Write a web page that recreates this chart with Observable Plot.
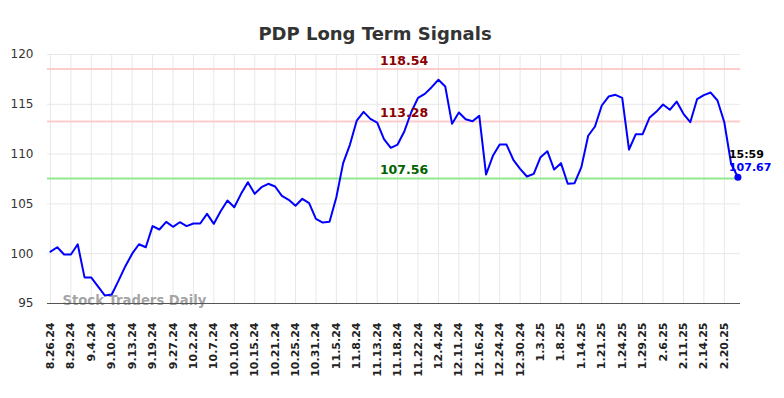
<!DOCTYPE html>
<html>
<head>
<meta charset="utf-8">
<script src="https://cdn.jsdelivr.net/npm/d3@7"></script>
<script src="https://cdn.jsdelivr.net/npm/@observablehq/plot@0.6"></script>
<style>
  html, body { margin: 0; padding: 0; background: #fff; }
</style>
</head>
<body>
<div id="chart"></div>
<script>
const chartTitle = "PDP Long Term Signals";
const watermark = "Stock Traders Daily";
const tickLabels = ["8.26.24","8.29.24","9.4.24","9.10.24","9.13.24","9.19.24","9.27.24","10.2.24","10.7.24","10.10.24","10.15.24","10.21.24","10.25.24","10.31.24","11.5.24","11.8.24","11.13.24","11.18.24","11.22.24","12.4.24","12.11.24","12.16.24","12.24.24","12.30.24","1.3.25","1.8.25","1.14.25","1.21.25","1.24.25","1.29.25","2.6.25","2.11.25","2.14.25","2.20.25"];
const prices = [
  100.2, 100.65, 99.92, 99.92, 100.95, 97.62, 97.6, 96.7, 95.8, 95.9,
  97.3, 98.75, 100.0, 100.95, 100.65, 102.77, 102.43, 103.2, 102.7, 103.16,
  102.77, 103.03, 103.03, 104.0, 103.0, 104.27, 105.34, 104.67, 106.01, 107.18,
  106.01, 106.68, 107.02, 106.75, 105.81, 105.41, 104.81, 105.51, 105.07, 103.5,
  103.13, 103.2, 105.67, 109.09, 110.96, 113.37, 114.24, 113.54, 113.17, 111.5,
  110.63, 110.96, 112.3, 114.2, 115.65, 116.05, 116.72, 117.46, 116.79, 113.04,
  114.18, 113.5, 113.3, 113.84, 107.95, 109.83, 110.96, 110.96, 109.43, 108.52,
  107.75, 108.02, 109.69, 110.29, 108.45, 109.09, 107.02, 107.08, 108.69, 111.84,
  112.77, 114.88, 115.78, 115.95, 115.65, 110.46, 112.0, 112.0, 113.64, 114.24,
  114.98, 114.45, 115.28, 114.05, 113.2, 115.51, 115.92, 116.18, 115.38, 113.2,
  109.03, 107.67
];
const resistanceLevels = [118.54, 113.28];
const supportLevels = [107.56];
const yTicks = [95, 100, 105, 110, 115, 120];
const lastTime = "15:59";

const data = prices.map((v, i) => ({i, v}));
const tickIdx = tickLabels.map((_, k) => k * 3);
const last = data[data.length - 1];

const chart = Plot.plot({
  width: 784,
  height: 398,
  marginTop: 54,
  marginRight: 44,
  marginBottom: 95,
  marginLeft: 47,
  style: {fontFamily: "DejaVu Sans", background: "#fff", overflow: "visible"},
  x: {domain: [-0.44, 101.38]},
  y: {domain: [95, 120]},
  marks: [
    Plot.gridY(yTicks, {stroke: "#e8e8e8", strokeOpacity: 1, strokeWidth: 1}),
    Plot.gridX(tickIdx, {stroke: "#e8e8e8", strokeOpacity: 1, strokeWidth: 1}),
    Plot.ruleY(resistanceLevels, {stroke: "#ffcccc", strokeWidth: 2}),
    Plot.ruleY(supportLevels, {stroke: "#90e890", strokeWidth: 2}),
    Plot.axisY(yTicks, {tickSize: 0, tickPadding: 14, fontSize: 12, fill: "#333", label: null}),
    Plot.axisX(tickIdx, {
      tickSize: 0, tickPadding: 19, tickRotate: -90,
      tickFormat: d => tickLabels[d / 3],
      fontSize: 11, fontWeight: "bold", fill: "#222", label: null
    }),
    Plot.text([watermark], {
      frameAnchor: "bottom-left", text: d => d, dx: 15, dy: 1,
      textAnchor: "start", fontSize: 13.2, fontWeight: "bold", fill: "#999", fillOpacity: 0.9
    }),
    Plot.ruleY([95], {stroke: "#555", strokeWidth: 1.2}),
    Plot.line(data, {x: "i", y: "v", stroke: "#0000ff", strokeWidth: 2}),
    Plot.text(resistanceLevels, {
      y: d => d, text: d => d.toFixed(2), dx: 10, dy: -8,
      fill: "#8b0000", fontWeight: "bold", fontSize: 12.5
    }),
    Plot.text(supportLevels, {
      y: d => d, text: d => d.toFixed(2), dx: 10, dy: -8,
      fill: "#006400", fontWeight: "bold", fontSize: 12.5
    }),
    Plot.dot([last], {x: "i", y: "v", r: 3.5, fill: "#0000ff"}),
    Plot.text([last], {
      x: "i", y: "v", text: () => lastTime, dx: -9, dy: -23,
      textAnchor: "start", fill: "#000", fontWeight: "bold", fontSize: 11
    }),
    Plot.text([last], {
      x: "i", y: "v", text: d => d.v.toFixed(2), dx: -9, dy: -10,
      textAnchor: "start", fill: "#0000ff", fontWeight: "bold", fontSize: 11
    }),
    Plot.text([chartTitle], {
      frameAnchor: "top", text: d => d, dx: -19, dy: -27,
      fontSize: 18, fontWeight: "bold", fill: "#333"
    })
  ]
});
document.getElementById("chart").appendChild(chart);
</script>
</body>
</html>
